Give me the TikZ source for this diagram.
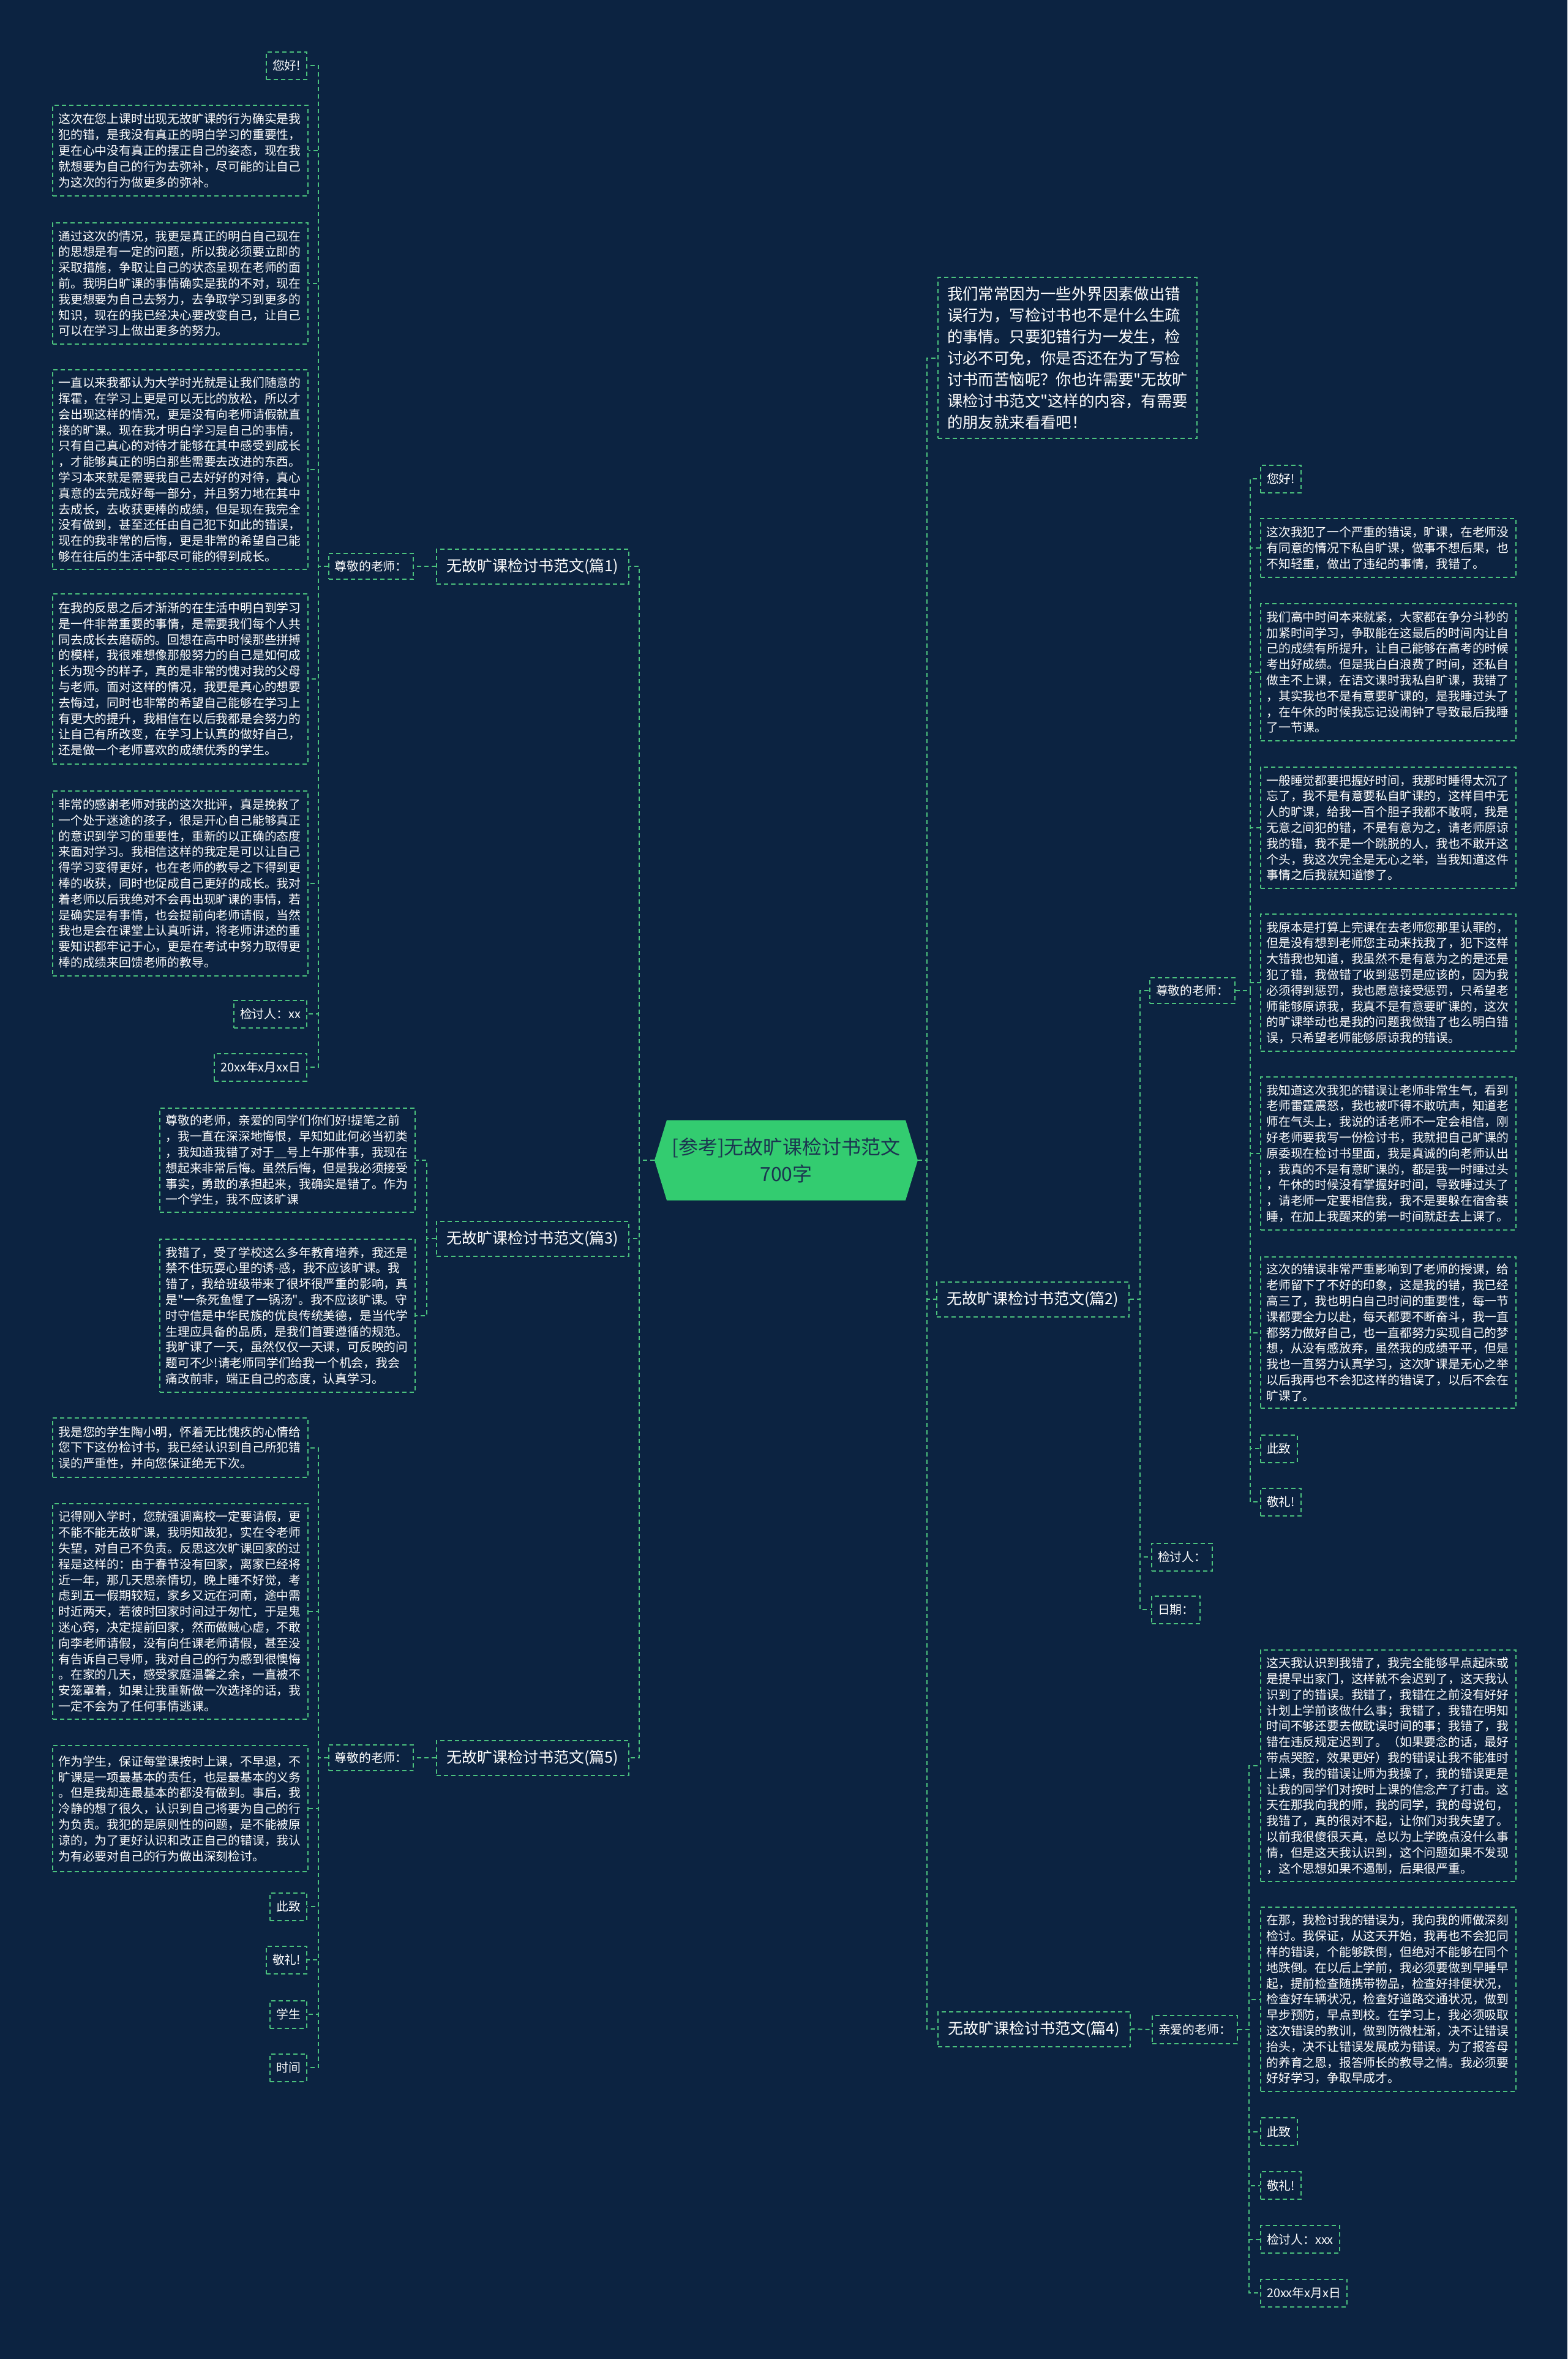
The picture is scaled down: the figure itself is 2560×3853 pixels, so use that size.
\documentclass[tikz,border=0pt]{standalone}
\usepackage{fontspec}
\newfontfamily\cjk{Noto Sans CJK SC}
\definecolor{bgc}{HTML}{0C2341}
\definecolor{lc}{HTML}{4CC27E}
\definecolor{cfill}{HTML}{33CC70}
\definecolor{ctext}{HTML}{1B3550}
\tikzset{
 dsh/.style={draw=lc, line width=2pt, dash pattern=on 7pt off 5pt},
 conn/.style={dsh},
 blk/.style={dsh, text=white, font=\cjk\fontsize{19.8pt}{25.8pt}\selectfont, align=left, text width=397pt, inner xsep=10pt, inner ysep=0pt},
 lbl/.style={dsh, text=white, font=\cjk\fontsize{19.8pt}{25.8pt}\selectfont, inner xsep=10pt, inner ysep=0pt, minimum height=45pt},
 brn/.style={dsh, text=white, font=\cjk\fontsize{25pt}{30pt}\selectfont, minimum width=314pt, minimum height=57pt, inner sep=0pt},
 introbox/.style={dsh, text=white, font=\cjk\fontsize{25.4pt}{35pt}\selectfont, align=left, text width=393pt, inner xsep=15pt, inner ysep=0pt, minimum height=263pt},
 cenbox/.style={fill=bgc, minimum width=430pt, minimum height=131pt, inner sep=0pt, align=center, text=ctext, font=\cjk\fontsize{32pt}{44pt}\selectfont,
   path picture={\fill[cfill] (path picture bounding box.west) -- ([xshift=20pt]path picture bounding box.north west) -- ([xshift=-20pt]path picture bounding box.north east) -- (path picture bounding box.east) -- ([xshift=-20pt]path picture bounding box.south east) -- ([xshift=20pt]path picture bounding box.south west) -- cycle;}}
}
\begin{document}
\begin{tikzpicture}[x=1pt,y=-1pt]
\fill[bgc] (0,0) rectangle (2560,3853);
\useasboundingbox (0,0) rectangle (2560,3853);

% center
\node[cenbox] (cen) at (1284,1895) {[参考]无故旷课检讨书范文\\700字};

% ---------- left branches ----------
\node[brn] (p1) at (869.5,925) {无故旷课检讨书范文(篇1)};
\node[brn] (p3) at (869.5,2023) {无故旷课检讨书范文(篇3)};
\node[brn] (p5) at (869.5,2871) {无故旷课检讨书范文(篇5)};

% 篇1
\node[lbl, minimum height=42pt] (zun1) at (606,925) {尊敬的老师：};
\node[lbl, anchor=east] (hao1) at (502,107) {您好!};
\node[blk, minimum height=148pt] (b11) at (294,246) {这次在您上课时出现无故旷课的行为确实是我\\犯的错，是我没有真正的明白学习的重要性，\\更在心中没有真正的摆正自己的姿态，现在我\\就想要为自己的行为去弥补，尽可能的让自己\\为这次的行为做更多的弥补。};
\node[blk, minimum height=198pt] (b12) at (294,463) {通过这次的情况，我更是真正的明白自己现在\\的思想是有一定的问题，所以我必须要立即的\\采取措施，争取让自己的状态呈现在老师的面\\前。我明白旷课的事情确实是我的不对，现在\\我更想要为自己去努力，去争取学习到更多的\\知识，现在的我已经决心要改变自己，让自己\\可以在学习上做出更多的努力。};
\node[blk, minimum height=326pt] (b13) at (294,767) {一直以来我都认为大学时光就是让我们随意的\\挥霍，在学习上更是可以无比的放松，所以才\\会出现这样的情况，更是没有向老师请假就直\\接的旷课。现在我才明白学习是自己的事情，\\只有自己真心的对待才能够在其中感受到成长\\，才能够真正的明白那些需要去改进的东西。\\学习本来就是需要我自己去好好的对待，真心\\真意的去完成好每一部分，并且努力地在其中\\去成长，去收获更棒的成绩，但是现在我完全\\没有做到，甚至还任由自己犯下如此的错误，\\现在的我非常的后悔，更是非常的希望自己能\\够在往后的生活中都尽可能的得到成长。};
\node[blk, minimum height=278pt] (b14) at (294,1109) {在我的反思之后才渐渐的在生活中明白到学习\\是一件非常重要的事情，是需要我们每个人共\\同去成长去磨砺的。回想在高中时候那些拼搏\\的模样，我很难想像那般努力的自己是如何成\\长为现今的样子，真的是非常的愧对我的父母\\与老师。面对这样的情况，我更是真心的想要\\去悔过，同时也非常的希望自己能够在学习上\\有更大的提升，我相信在以后我都是会努力的\\让自己有所改变，在学习上认真的做好自己，\\还是做一个老师喜欢的成绩优秀的学生。};
\node[blk, minimum height=302pt] (b15) at (294,1443) {非常的感谢老师对我的这次批评，真是挽救了\\一个处于迷途的孩子，很是开心自己能够真正\\的意识到学习的重要性，重新的以正确的态度\\来面对学习。我相信这样的我定是可以让自己\\得学习变得更好，也在老师的教导之下得到更\\棒的收获，同时也促成自己更好的成长。我对\\着老师以后我绝对不会再出现旷课的事情，若\\是确实是有事情，也会提前向老师请假，当然\\我也是会在课堂上认真听讲，将老师讲述的重\\要知识都牢记于心，更是在考试中努力取得更\\棒的成绩来回馈老师的教导。};
\node[lbl, anchor=east] (jtr1) at (502,1656) {检讨人：xx};
\node[lbl, anchor=east] (date1) at (502,1743) {20xx年x月xx日};

% 篇3
\node[blk, minimum height=170pt] (b31) at (469,1895) {尊敬的老师，亲爱的同学们你们好!提笔之前\\，我一直在深深地悔恨，早知如此何必当初类\\，我知道我错了对于＿号上午那件事，我现在\\想起来非常后悔。虽然后悔，但是我必须接受\\事实，勇敢的承担起来，我确实是错了。作为\\一个学生，我不应该旷课};
\node[blk, minimum height=250pt] (b32) at (469,2149) {我错了，受了学校这么多年教育培养，我还是\\禁不住玩耍心里的诱-惑，我不应该旷课。我\\错了，我给班级带来了很坏很严重的影响，真\\是"一条死鱼惺了一锅汤"。我不应该旷课。守\\时守信是中华民族的优良传统美德，是当代学\\生理应具备的品质，是我们首要遵循的规范。\\我旷课了一天，虽然仅仅一天课，可反映的问\\题可不少!请老师同学们给我一个机会，我会\\痛改前非，端正自己的态度，认真学习。};

% 篇5
\node[lbl, minimum height=42pt] (zun5) at (606,2871) {尊敬的老师：};
\node[blk, minimum height=97pt] (b51) at (294,2364.5) {我是您的学生陶小明，怀着无比愧疚的心情给\\您下下这份检讨书，我已经认识到自己所犯错\\误的严重性，并向您保证绝无下次。};
\node[blk, minimum height=352pt] (b52) at (294,2632) {记得刚入学时，您就强调离校一定要请假，更\\不能不能无故旷课，我明知故犯，实在令老师\\失望，对自己不负责。反思这次旷课回家的过\\程是这样的：由于春节没有回家，离家已经将\\近一年，那几天思亲情切，晚上睡不好觉，考\\虑到五一假期较短，家乡又远在河南，途中需\\时近两天，若彼时回家时间过于匆忙，于是鬼\\迷心窍，决定提前回家，然而做贼心虚，不敢\\向李老师请假，没有向任课老师请假，甚至没\\有告诉自己导师，我对自己的行为感到很懊悔\\。在家的几天，感受家庭温馨之余，一直被不\\安笼罩着，如果让我重新做一次选择的话，我\\一定不会为了任何事情逃课。};
\node[blk, minimum height=206pt] (b53) at (294,2954) {作为学生，保证每堂课按时上课，不早退，不\\旷课是一项最基本的责任，也是最基本的义务\\。但是我却连最基本的都没有做到。事后，我\\冷静的想了很久，认识到自己将要为自己的行\\为负责。我犯的是原则性的问题，是不能被原\\谅的，为了更好认识和改正自己的错误，我认\\为有必要对自己的行为做出深刻检讨。};
\node[lbl, anchor=east] (ciz5) at (502,3114) {此致};
\node[lbl, anchor=east] (jl5) at (502,3201) {敬礼!};
\node[lbl, anchor=east] (xs5) at (502,3290) {学生};
\node[lbl, anchor=east] (sj5) at (502,3377) {时间};

% ---------- right branches ----------
\node[introbox] (intro) at (1743.5,584.5) {我们常常因为一些外界因素做出错\\误行为，写检讨书也不是什么生疏\\的事情。只要犯错行为一发生，检\\讨必不可免，你是否还在为了写检\\讨书而苦恼呢？你也许需要"无故旷\\课检讨书范文"这样的内容，有需要\\的朋友就来看看吧！};
\node[brn] (p2) at (1686.5,2122) {无故旷课检讨书范文(篇2)};
\node[brn] (p4) at (1688.5,3314) {无故旷课检讨书范文(篇4)};

% 篇2
\node[lbl, minimum height=42pt] (zun2) at (1947.5,1618) {尊敬的老师：};
\node[lbl, anchor=west] (jtr2) at (1880,2543) {检讨人：};
\node[lbl, anchor=west] (rq2) at (1880,2629) {日期：};
\node[lbl, anchor=west] (hao2) at (2058,782) {您好!};
\node[blk, minimum height=96pt] (r1) at (2267,895) {这次我犯了一个严重的错误，旷课，在老师没\\有同意的情况下私自旷课，做事不想后果，也\\不知轻重，做出了违纪的事情，我错了。};
\node[blk, minimum height=224pt] (r2) at (2267,1098) {我们高中时间本来就紧，大家都在争分斗秒的\\加紧时间学习，争取能在这最后的时间内让自\\己的成绩有所提升，让自己能够在高考的时候\\考出好成绩。但是我白白浪费了时间，还私自\\做主不上课，在语文课时我私自旷课，我错了\\，其实我也不是有意要旷课的，是我睡过头了\\，在午休的时候我忘记设闹钟了导致最后我睡\\了一节课。};
\node[blk, minimum height=198pt] (r3) at (2267,1352) {一般睡觉都要把握好时间，我那时睡得太沉了\\忘了，我不是有意要私自旷课的，这样目中无\\人的旷课，给我一百个胆子我都不敢啊，我是\\无意之间犯的错，不是有意为之，请老师原谅\\我的错，我不是一个跳脱的人，我也不敢开这\\个头，我这次完全是无心之举，当我知道这件\\事情之后我就知道惨了。};
\node[blk, minimum height=224pt] (r4) at (2267,1605) {我原本是打算上完课在去老师您那里认罪的，\\但是没有想到老师您主动来找我了，犯下这样\\大错我也知道，我虽然不是有意为之的是还是\\犯了错，我做错了收到惩罚是应该的，因为我\\必须得到惩罚，我也愿意接受惩罚，只希望老\\师能够原谅我，我真不是有意要旷课的，这次\\的旷课举动也是我的问题我做错了也么明白错\\误，只希望老师能够原谅我的错误。};
\node[blk, minimum height=250pt] (r5) at (2267,1884) {我知道这次我犯的错误让老师非常生气，看到\\老师雷霆震怒，我也被吓得不敢吭声，知道老\\师在气头上，我说的话老师不一定会相信，刚\\好老师要我写一份检讨书，我就把自己旷课的\\原委现在检讨书里面，我是真诚的向老师认出\\，我真的不是有意旷课的，都是我一时睡过头\\，午休的时候没有掌握好时间，导致睡过头了\\，请老师一定要相信我，我不是要躲在宿舍装\\睡，在加上我醒来的第一时间就赶去上课了。};
\node[blk, minimum height=247pt] (r6) at (2267,2176.5) {这次的错误非常严重影响到了老师的授课，给\\老师留下了不好的印象，这是我的错，我已经\\高三了，我也明白自己时间的重要性，每一节\\课都要全力以赴，每天都要不断奋斗，我一直\\都努力做好自己，也一直都努力实现自己的梦\\想，从没有感放弃，虽然我的成绩平平，但是\\我也一直努力认真学习，这次旷课是无心之举\\以后我再也不会犯这样的错误了，以后不会在\\旷课了。};
\node[lbl, anchor=west] (ciz2) at (2058,2366) {此致};
\node[lbl, anchor=west] (jl2) at (2058,2453) {敬礼!};

% 篇4
\node[lbl, minimum height=46pt] (qin4) at (1951.5,3315) {亲爱的老师：};
\node[blk, minimum height=378pt] (r4a) at (2267,2884) {这天我认识到我错了，我完全能够早点起床或\\是提早出家门，这样就不会迟到了，这天我认\\识到了的错误。我错了，我错在之前没有好好\\计划上学前该做什么事；我错了，我错在明知\\时间不够还要去做耽误时间的事；我错了，我\\错在违反规定迟到了。（如果要念的话，最好\\带点哭腔，效果更好）我的错误让我不能准时\\上课，我的错误让师为我操了，我的错误更是\\让我的同学们对按时上课的信念产了打击。这\\天在那我向我的师，我的同学，我的母说句，\\我错了，真的很对不起，让你们对我失望了。\\以前我很傻很天真，总以为上学晚点没什么事\\情，但是这天我认识到，这个问题如果不发现\\，这个思想如果不遏制，后果很严重。};
\node[blk, minimum height=301pt] (r4b) at (2267,3265.5) {在那，我检讨我的错误为，我向我的师做深刻\\检讨。我保证，从这天开始，我再也不会犯同\\样的错误，个能够跌倒，但绝对不能够在同个\\地跌倒。在以后上学前，我必须要做到早睡早\\起，提前检查随携带物品，检查好排便状况，\\检查好车辆状况，检查好道路交通状况，做到\\早步预防，早点到校。在学习上，我必须吸取\\这次错误的教训，做到防微杜渐，决不让错误\\抬头，决不让错误发展成为错误。为了报答母\\的养育之恩，报答师长的教导之情。我必须要\\好好学习，争取早成才。};
\node[lbl, anchor=west] (ciz4) at (2058,3481.5) {此致};
\node[lbl, anchor=west] (jl4) at (2058,3569.5) {敬礼!};
\node[lbl, anchor=west] (jtr4) at (2058,3657.5) {检讨人：xxx};
\node[lbl, anchor=west] (date4) at (2058,3745) {20xx年x月x日};

% ---------- connectors ----------
\foreach \c in {p1,p3,p5} \draw[conn] (cen.west) -- ++(-25,0) |- (\c.east);
\foreach \c in {intro,p2,p4} \draw[conn] (cen.east) -- ++(15,0) |- (\c.west);

\draw[conn] (p1.west) -- (zun1.east);
\foreach \c in {hao1,b11,b12,b13,b14,b15,jtr1,date1} \draw[conn] (zun1.west) -- ++(-16,0) |- (\c.east);

\foreach \c in {b31,b32} \draw[conn] (p3.west) -- ++(-15,0) |- (\c.east);

\draw[conn] (p5.west) -- (zun5.east);
\foreach \c in {b51,b52,b53,ciz5,jl5,xs5,sj5} \draw[conn] (zun5.west) -- ++(-16,0) |- (\c.east);

\foreach \c in {zun2,jtr2,rq2} \draw[conn] (p2.east) -- ++(17,0) |- (\c.west);
\foreach \c in {hao2,r1,r2,r3,r4,r5,r6,ciz2,jl2} \draw[conn] (zun2.east) -- ++(24,0) |- (\c.west);

\draw[conn] (p4.east) -- (qin4.west);
\foreach \c in {r4a,r4b,ciz4,jl4,jtr4,date4} \draw[conn] (qin4.east) -- ++(18,0) |- (\c.west);
\end{tikzpicture}
\end{document}
